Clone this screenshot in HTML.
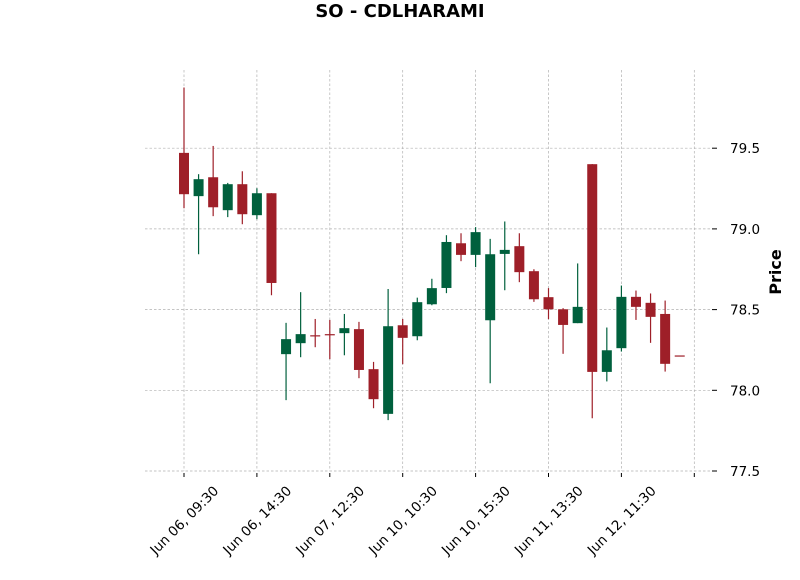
<!DOCTYPE html>
<html><head><meta charset="utf-8"><style>
body{margin:0;background:#fff;}
svg text{font-family:"DejaVu Sans","Liberation Sans",sans-serif;}
</style></head><body>
<svg id="chart" width="800" height="575" xmlns="http://www.w3.org/2000/svg">
<text x="400" y="17" text-anchor="middle" font-size="18" font-weight="bold">SO - CDLHARAMI</text>
<g id="grid"></g>
<g id="candles"></g>
<g id="axes"></g>
<text transform="translate(781,272) rotate(-90)" text-anchor="middle" font-size="16" font-weight="bold">Price</text>
</svg>
<script>
const opens=[79.471,79.203,79.320,79.116,79.277,79.085,79.221,78.224,78.292,78.341,78.348,78.354,78.379,78.131,77.854,78.403,78.335,78.533,78.634,78.911,78.839,78.434,78.845,78.893,78.738,78.577,78.502,78.416,79.401,78.114,78.261,78.579,78.542,78.473,78.216];
const highs=[79.876,79.339,79.514,79.285,79.357,79.252,79.221,78.418,78.608,78.442,78.436,78.473,78.424,78.176,78.628,78.442,78.574,78.691,78.961,78.973,79.011,78.938,79.046,78.973,78.750,78.633,78.509,78.786,79.401,78.389,78.649,78.618,78.600,78.556,78.216];
const lows=[79.128,78.843,79.079,79.073,79.029,79.060,78.589,77.939,78.205,78.267,78.193,78.217,78.075,77.889,77.815,78.162,78.310,78.527,78.602,78.800,78.763,78.044,78.620,78.670,78.548,78.441,78.226,78.416,77.827,78.055,78.240,78.436,78.294,78.116,78.216];
const closes=[79.215,79.308,79.134,79.277,79.091,79.221,78.665,78.317,78.348,78.338,78.344,78.385,78.126,77.945,78.397,78.325,78.546,78.633,78.919,78.839,78.980,78.843,78.870,78.732,78.564,78.502,78.405,78.517,78.114,78.248,78.579,78.517,78.455,78.164,78.216];
const xTickIdx=[0,5,10,15,20,25,30,35];
const xTickLabels=["Jun 06, 09:30","Jun 06, 14:30","Jun 07, 12:30","Jun 10, 10:30","Jun 10, 15:30","Jun 11, 13:30","Jun 12, 11:30",""];
const yTicks=[77.5,78.0,78.5,79.0,79.5];

const NS="http://www.w3.org/2000/svg";
const X0=184, DX=14.58, PL=145, PR=710, PT=70, PB=471;
const xs=i=>X0+i*DX;
const ys=p=>471-(p-77.5)*161.4;
function mk(tag,attrs,parent){const e=document.createElementNS(NS,tag);for(const k in attrs)e.setAttribute(k,attrs[k]);parent.appendChild(e);return e;}
const grid=document.getElementById('grid'),cg=document.getElementById('candles'),ax=document.getElementById('axes');
xTickIdx.forEach((t,i)=>{
  const x=xs(t);
  const g=mk('line',{x1:x,x2:x,y1:PT,y2:PB,stroke:'#b0b0b0','stroke-width':0.7,'stroke-dasharray':'2.5,2'},grid);
  
  
  const tk=mk('line',{x1:x,x2:x,y1:PB+2,y2:PB+6,stroke:'#000','stroke-width':1},ax);
  
  
  if(xTickLabels[i]){
    const tx=mk('text',{transform:`translate(${x},${PB+49}) rotate(-45)`,'text-anchor':'middle','font-size':13.5,dy:5},ax);
    tx.textContent=xTickLabels[i];
    
    
  }
});
yTicks.forEach(v=>{
  const y=ys(v);
  const g=mk('line',{x1:PL,x2:PR,y1:y,y2:y,stroke:'#b0b0b0','stroke-width':0.7,'stroke-dasharray':'2.5,2'},grid);
  
  
  const tk=mk('line',{x1:PR+2,x2:PR+7,y1:y,y2:y,stroke:'#000','stroke-width':1},ax);
  
  
  const tx=mk('text',{x:PR+20,y:y+5,'font-size':13.5},ax);
  tx.textContent=v.toFixed(1);
  
  
});
opens.forEach((o,i)=>{
  const c=closes[i],col=(c>o)?'#00603d':'#9e1f28';
  const x=xs(i);
  const w=mk('line',{x1:x,x2:x,y1:ys(highs[i]),y2:ys(lows[i]),stroke:col,'stroke-width':1.2},cg);
  
  
  const top=ys(Math.max(o,c)),bot=ys(Math.min(o,c));
  const b=mk('rect',{x:x-5,y:top,width:10,height:Math.max(bot-top,1.2),fill:col},cg);
  
  
});
</script>
</body></html>
